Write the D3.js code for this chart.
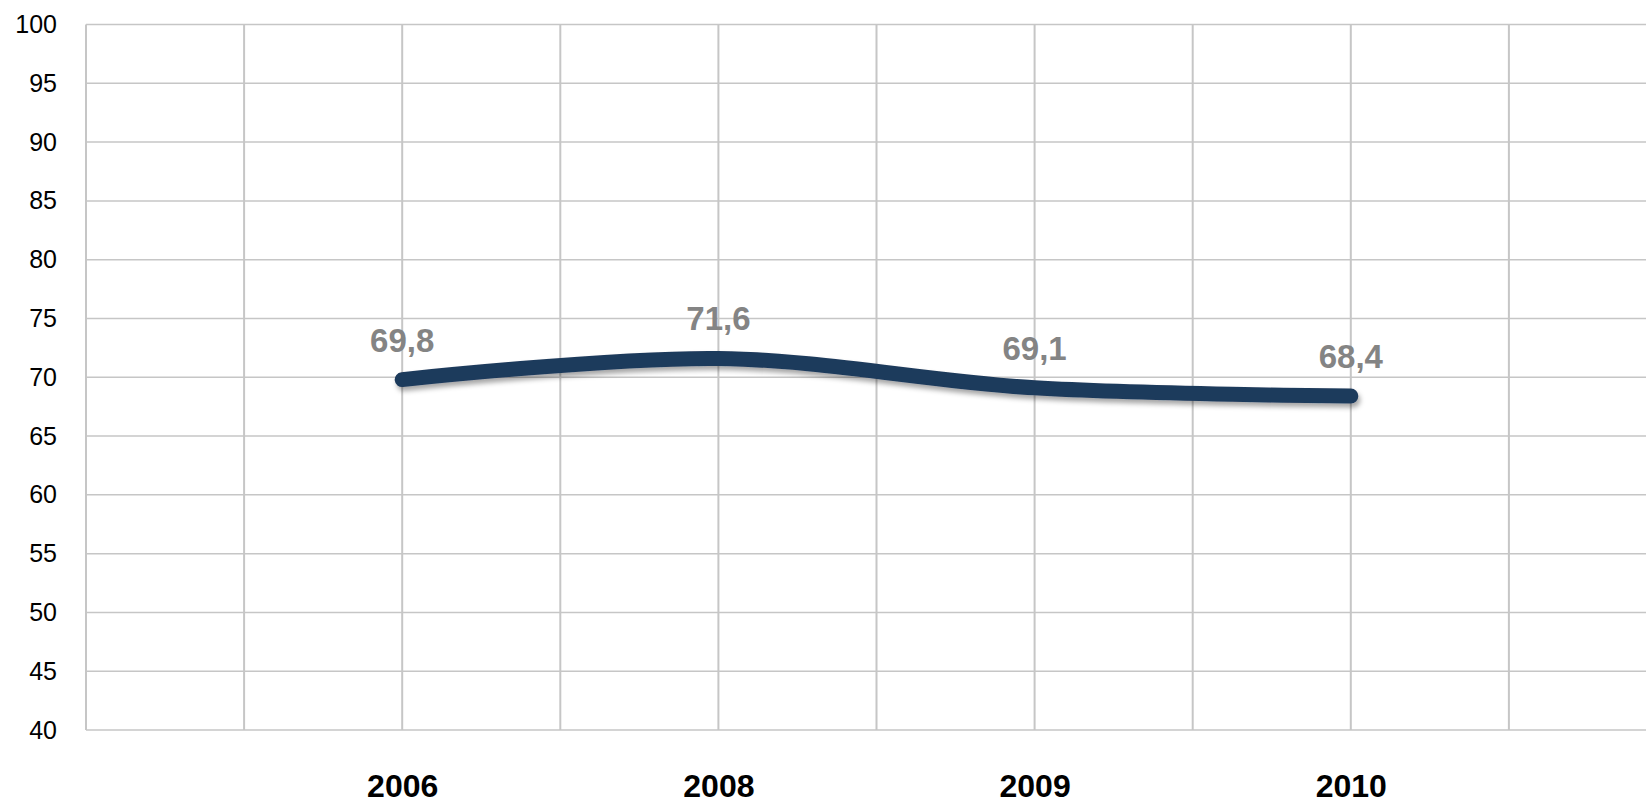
<!DOCTYPE html>
<html><head><meta charset="utf-8">
<script src="https://cdn.jsdelivr.net/npm/d3@7"></script>
<style>html,body{margin:0;padding:0;background:#fff;overflow:hidden}</style>
</head><body>
<svg id="chart" width="1646" height="805"></svg>
<script>
// category slots (blank slots are empty columns on the category axis)
const slots = ["s0","s1","2006","s3","2008","s5","2009","s7","2010","s9","s10"];
const years = ["2006","2008","2009","2010"];
const values = [69.8, 71.6, 69.1, 68.4];
const valueLabels = ["69,8","71,6","69,1","68,4"];
const yTicks = [40,45,50,55,60,65,70,75,80,85,90,95,100];

(function(){
const svg = d3.select("#chart");
const pL = 86, pR = 1667, pT = 24.5, pB = 730;

const x = d3.scalePoint().domain(slots).range([pL, pR]);
const y = d3.scaleLinear().domain([40, 100]).range([pB, pT]);

const font = "'Liberation Sans', Arial, sans-serif";

const defs = svg.append("defs");
const f = defs.append("filter").attr("id","shadow").attr("x","-10%").attr("y","-50%").attr("width","120%").attr("height","300%");
f.append("feDropShadow").attr("dx",2).attr("dy",4).attr("stdDeviation",2.5).attr("flood-color","#000").attr("flood-opacity",0.35);

svg.append("g").selectAll("line").data(yTicks).join("line")
  .attr("x1", pL).attr("x2", 1646)
  .attr("y1", d => y(d)).attr("y2", d => y(d))
  .attr("stroke", "#c6c6c6").attr("stroke-width", 1.5);

svg.append("g").selectAll("line").data(slots).join("line")
  .attr("x1", d => x(d)).attr("x2", d => x(d))
  .attr("y1", pT).attr("y2", pB)
  .attr("stroke", "#c6c6c6").attr("stroke-width", 2);

const yAxis = d3.axisLeft(y).tickValues(yTicks).tickSize(0).tickPadding(29);
const ya = svg.append("g").attr("transform", `translate(${pL},0)`).call(yAxis);
ya.select(".domain").remove();
ya.selectAll("text").attr("font-family", font).attr("font-size", 25).attr("fill", "#000");

const xAxis = d3.axisBottom(x).tickValues(years).tickSize(0).tickPadding(0);
const xa = svg.append("g").attr("transform", `translate(0,${pB})`).call(xAxis);
xa.select(".domain").remove();
xa.selectAll("text").attr("dy", null).attr("y", 67)
  .attr("font-family", font).attr("font-size", 32).attr("font-weight", "bold").attr("fill", "#000");

const pts = years.map((yr, i) => [x(yr), y(values[i])]);
const line = d3.line().curve(d3.curveCatmullRom.alpha(0.5));
svg.append("path").attr("d", line(pts))
  .attr("fill", "none").attr("stroke", "#1f3a5b").attr("stroke-width", 15)
  .attr("stroke-linecap", "round").attr("stroke-linejoin", "round")
  .attr("filter", "url(#shadow)");

svg.append("g").selectAll("text").data(years).join("text")
  .attr("x", d => x(d)).attr("y", (d, i) => y(values[i]) - 28)
  .attr("text-anchor", "middle")
  .attr("font-family", font).attr("font-size", 33).attr("font-weight", "bold")
  .attr("fill", "#848484")
  .text((d, i) => valueLabels[i]);
})();
</script>
</body></html>
